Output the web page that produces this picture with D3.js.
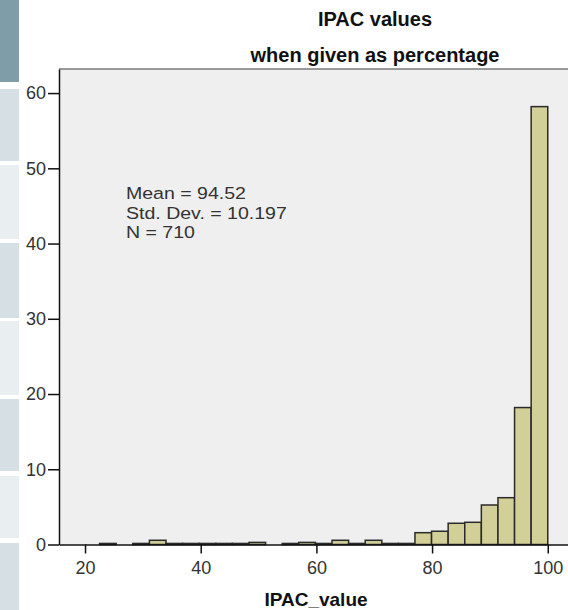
<!DOCTYPE html>
<meta charset="utf-8">
<style>
body { margin: 0; background: #fff; }
text { font-family: "Liberation Sans", Arial, sans-serif; }
.tick text { fill: #333; }
.bar { fill: #d3cf98; stroke: #2a2a2a; stroke-width: 1.5px; }
</style>
<body>
<script src="https://cdn.jsdelivr.net/npm/d3@7"></script>
<script>

var width = 568,
    height = 610;

// histogram bins (lower edge) and percent of cases in each bin
var binStarts = [22.52, 25.39, 28.26, 31.13, 34.00, 36.87, 39.74, 42.61, 45.48,
                 48.35, 51.22, 54.09, 56.96, 59.83, 62.70, 65.57, 68.44, 71.31,
                 74.17, 77.04, 79.91, 82.78, 85.65, 88.52, 91.39, 94.26, 97.13];
var binWidth = 2.87;
var percents = [0.14, 0, 0.14, 0.56, 0.14, 0.14, 0.14, 0.14, 0.14,
                0.28, 0, 0.14, 0.28, 0.14, 0.56, 0.14, 0.56, 0.14,
                0.14, 1.57, 1.76, 2.82, 2.95, 5.25, 6.22, 18.2, 58.2];

var xTicks = [20, 40, 60, 80, 100];
var yTicks = [0, 10, 20, 30, 40, 50, 60];
var titleLines = ["IPAC values", "when given as percentage"];
var statsLines = ["Mean = 94.52", "Std. Dev. = 10.197", "N = 710"];
var xTitle = "IPAC_value";

// left side panel strip
var stripBlocks = [[0, 82, "#7e9da6"], [89, 161, "#d6dfe3"], [165, 239, "#e9eef0"],
                   [243, 318, "#d6dfe3"], [321, 395, "#e9eef0"], [399, 471, "#d6dfe3"],
                   [476, 538, "#e9eef0"], [543, 610, "#d6dfe3"]];

var svg = d3.select("body").append("svg")
    .attr("width", width)
    .attr("height", height);

var x = d3.scaleLinear().domain([15.5, 103.5]).range([59, 568]);
var y = d3.scaleLinear().domain([0, 63.2]).range([544.5, 69]);

svg.selectAll("rect.strip")
    .data(stripBlocks)
  .enter().append("rect")
    .attr("class", "strip")
    .attr("x", 0)
    .attr("y", function(d){ return d[0]; })
    .attr("width", 19)
    .attr("height", function(d){ return d[1] - d[0]; })
    .style("fill", function(d){ return d[2]; });

// plot background
svg.append("rect")
    .attr("x", x.range()[0])
    .attr("y", y.range()[1])
    .attr("width", x.range()[1] - x.range()[0])
    .attr("height", y.range()[0] - y.range()[1])
    .style("fill", "#efefef");

svg.append("line")
    .attr("x1", 59).attr("x2", 568)
    .attr("y1", 69).attr("y2", 69)
    .style("stroke", "#7a7a7a")
    .style("stroke-width", 1.5);

svg.selectAll("rect.bar")
    .data(percents)
  .enter().append("rect")
    .attr("class", "bar")
    .attr("x", function(d, i){ return x(binStarts[i]); })
    .attr("y", function(d){ return y(d); })
    .attr("width", function(d, i){ return x(binStarts[i] + binWidth) - x(binStarts[i]); })
    .attr("height", function(d){ return y(0) - y(d); });

var yAxis = svg.append("g")
    .attr("transform", "translate(59,0)")
    .call(d3.axisLeft(y).tickValues(yTicks).tickSize(11).tickSizeOuter(0).tickPadding(2));

var xAxis = svg.append("g")
    .attr("transform", "translate(0,544.5)")
    .call(d3.axisBottom(x).tickValues(xTicks).tickSize(9).tickSizeOuter(0).tickPadding(8));

[yAxis, xAxis].forEach(function(a){
  a.select(".domain").style("stroke", "#111").style("stroke-width", 1.5);
  a.selectAll(".tick line").style("stroke", "#111").style("stroke-width", 1.5);
  a.selectAll(".tick text").style("font-size", "18px")
    .style("font-family", "'Liberation Sans', Arial, sans-serif");
});

svg.selectAll("text.title")
    .data(titleLines)
  .enter().append("text")
    .attr("class", "title")
    .attr("x", 375)
    .attr("y", function(d, i){ return 26 + i * 36; })
    .attr("text-anchor", "middle")
    .style("font-size", "20px")
    .style("font-weight", "bold")
    .style("fill", "#111")
    .text(function(d){ return d; });

// stats box: glyphs are wide and short in the reference, so stretch a smaller font
var stats = svg.append("g")
    .attr("transform", "translate(126,0) scale(1.15,1)");

stats.selectAll("text.stats")
    .data(statsLines)
  .enter().append("text")
    .attr("class", "stats")
    .attr("x", 0)
    .attr("y", function(d, i){ return 199.5 + i * 19.3; })
    .style("font-size", "17px")
    .style("fill", "#333")
    .text(function(d){ return d; });

svg.append("text")
    .attr("x", 316)
    .attr("y", 606)
    .attr("text-anchor", "middle")
    .style("font-size", "19px")
    .style("font-weight", "bold")
    .style("fill", "#111")
    .text(xTitle);

</script>
